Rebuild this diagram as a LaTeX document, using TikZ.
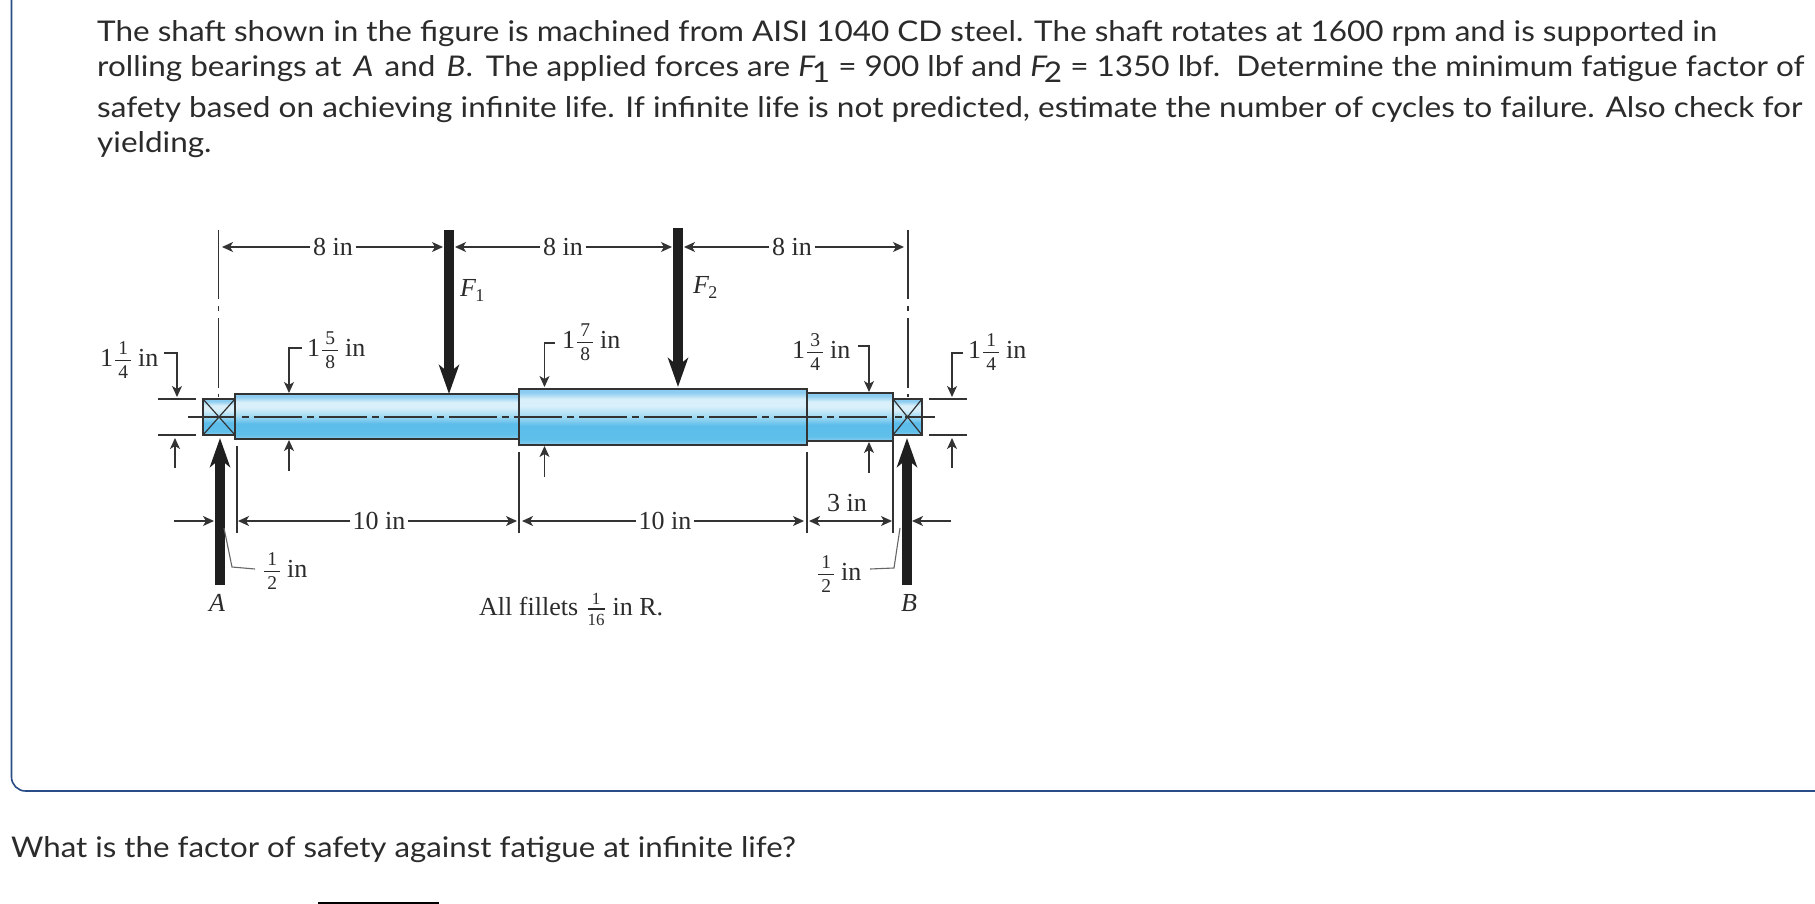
\documentclass[tikz,border=0pt]{standalone}
\usepackage{graphicx}
\usepackage{fontspec}
\setmainfont[FakeStretch=1.105]{Lato}
\newfontfamily\dfont{Liberation Serif}
\usetikzlibrary{arrows.meta}
\definecolor{ink}{HTML}{2B2B2B}
\definecolor{heavyink}{HTML}{1F1F1F}
\definecolor{dline}{HTML}{333333}
\definecolor{frame}{HTML}{2A4D87}
\pgfdeclareverticalshading{shaftg}{100bp}{
 rgb(0bp)=(0.55,0.80,0.93);rgb(25bp)=(0.55,0.80,0.93);rgb(30bp)=(0.37,0.75,0.92);
 rgb(42bp)=(0.36,0.74,0.92);rgb(50bp)=(0.62,0.85,0.95);rgb(60bp)=(0.85,0.94,0.98);
 rgb(66bp)=(0.85,0.94,0.98);rgb(72bp)=(0.55,0.80,0.94);rgb(75bp)=(0.55,0.80,0.94);rgb(100bp)=(0.55,0.80,0.94)}
\newcommand\mysub[1]{\kern-3.5pt\raisebox{-6pt}{\upshape #1}}
% stacked fraction: bar 16pt wide, 5.3pt above the baseline
\newcommand\dfr[2]{\makebox[16pt]{\fontsize{19.5}{20}\selectfont\rlap{\makebox[16pt]{\raisebox{11.5pt}{#1}}}\rlap{\makebox[16pt]{\raisebox{-12pt}{#2}}}\rule[4.8pt]{16pt}{1.1pt}}}
\newcommand\dfrs[2]{\makebox[17pt]{\fontsize{17}{18}\selectfont\rlap{\makebox[17pt]{\raisebox{11pt}{#1}}}\rlap{\makebox[17pt]{\raisebox{-10.5pt}{#2}}}\rule[5.5pt]{17pt}{1.1pt}}}
\newcommand\mixed[2]{1\kern2pt\dfr{#1}{#2}\kern7pt in}
\tikzset{
 x=1pt,y=-1pt,
 maintext/.style={anchor=base west,inner sep=0pt,text=ink,font=\fontsize{28.5}{30}\selectfont},
 dlabel/.style={anchor=base west,inner sep=0pt,text=ink,font=\dfont\fontsize{26}{28}\selectfont},
 dimtext/.style={anchor=base,inner xsep=2.5pt,inner ysep=0pt,text=ink,font=\dfont\fontsize{26}{28}\selectfont},
 thin line/.style={draw=dline,line width=1.4pt},
 dim/.style={thin line,-{Stealth[length=11pt,width=10pt,inset=3pt]}},
 heavy/.style={draw=heavyink,line width=9.5pt,-{Stealth[length=29pt,width=20pt,inset=8pt]}},
 part/.style={draw=dline,line width=1.7pt,shading=shaftg},
 gleader/.style={draw=black!60,line width=1.1pt},
}
\begin{document}
\begin{tikzpicture}
\useasboundingbox (0,0) rectangle (1815,904);
\fill[white] (0,0) rectangle (1815,904);
% frame
\draw[frame,line width=1.6pt,rounded corners=14pt] (11.5,-5) -- (11.5,791) -- (1825,791);
% main text
\node[maintext] (l1) at (97,42) {The shaft shown in the figure is machined from AISI 1040 CD steel. The shaft rotates at 1600 rpm and is supported in};
\node[maintext] (l2) at (97,77) {rolling bearings at \kern4pt\textit{A} \kern3pt and \kern3pt\textit{B}. \kern5pt The applied forces are \textit{F}\mysub{1} = 900 lbf and \textit{F}\mysub{2} = 1350 lbf.\ \ Determine the minimum fatigue factor of};
\node[maintext] (l3) at (97,118) {\scalebox{1.003}[1]{safety based on achieving infinite life. If infinite life is not predicted, estimate the number of cycles to failure. Also check for}};
\node[maintext] (l4) at (97,153) {yielding.};
\node[maintext] (q) at (11,857) {\scalebox{0.9925}[1]{What is the factor of safety against fatigue at infinite life?}};
\coordinate (ansL) at (318,903); \coordinate (ansR) at (439,903);
\draw[black,line width=2pt] (ansL) -- (ansR);
% shaft
\path[part] (203,399) rectangle (235,435);
\path[part] (893,399) rectangle (922,435);
\path[part] (235,394) rectangle (519,439);
\path[part] (519,389) rectangle (807,445);
\path[part] (807,393) rectangle (893,441);
\coordinate (ba1) at (203,399); \coordinate (ba2) at (235,435); \coordinate (ba3) at (235,399); \coordinate (ba4) at (203,435);
\coordinate (bb1) at (893,399); \coordinate (bb2) at (922,435); \coordinate (bb3) at (922,399); \coordinate (bb4) at (893,435);
\draw[dline,line width=1.2pt] (ba1) -- (ba2) (ba3) -- (ba4) (bb1) -- (bb2) (bb3) -- (bb4);
% centre line
\coordinate (cl0) at (188,417); \coordinate (cl1) at (235,417); \coordinate (cl2) at (242,417); \coordinate (cl3) at (887,417);
\coordinate (cl4) at (895,417); \coordinate (cl5) at (902,417); \coordinate (cl6) at (905,417); \coordinate (cl7) at (935,417);
\draw[dline,line width=1.5pt] (cl0) -- (cl1) (cl4) -- (cl5) (cl6) -- (cl7);
\draw[dline,line width=1.5pt,dash pattern=on 7pt off 5pt on 48pt off 5pt] (cl2) -- (cl3);
% extension lines
\foreach \n/\x in {a/218.7,b/908}{
 \coordinate (e\n1) at (\x,230); \coordinate (e\n2) at (\x,299); \coordinate (e\n3) at (\x,306); \coordinate (e\n4) at (\x,311);
 \coordinate (e\n5) at (\x,318); \coordinate (e\n6) at (\x,388); \coordinate (e\n7) at (\x,394); \coordinate (e\n8) at (\x,397);
 \draw[dline,line width=1.4pt] (e\n1) -- (e\n2) (e\n3) -- (e\n4) (e\n5) -- (e\n6) (e\n7) -- (e\n8);
}
\foreach \n/\x/\y in {c/237/446,d/519/452,e/807/452,f/893/441}{
 \coordinate (x\n1) at (\x,\y); \coordinate (x\n2) at (\x,533);
 \draw[dline,line width=1.4pt] (x\n1) -- (x\n2);
}
% heavy arrows
\coordinate (f1a) at (449,230); \coordinate (f1b) at (449,394);
\coordinate (f2a) at (678,228); \coordinate (f2b) at (678,387);
\coordinate (ra) at (220,585); \coordinate (rb) at (220,438);
\coordinate (sa) at (907,585); \coordinate (sb) at (907,438);
\draw[heavy] (f1a) -- (f1b);
\draw[heavy] (f2a) -- (f2b);
\draw[heavy] (ra) -- (rb);
\draw[heavy] (sa) -- (sb);
% top dims
\node[dimtext] (d81) at (333,255) {8 in};
\node[dimtext] (d82) at (563,255) {8 in};
\node[dimtext] (d83) at (792,255) {8 in};
\coordinate (t0) at (222,247); \coordinate (t1) at (443,247); \coordinate (t2) at (455,247); \coordinate (t3) at (672,247); \coordinate (t4) at (684,247); \coordinate (t5) at (904,247);
\draw[dim] (d81.west|-t0) -- (t0); \draw[dim] (d81.east|-t0) -- (t1);
\draw[dim] (d82.west|-t0) -- (t2); \draw[dim] (d82.east|-t0) -- (t3);
\draw[dim] (d83.west|-t0) -- (t4); \draw[dim] (d83.east|-t0) -- (t5);
% force labels
\node[dlabel] (F1) at (460,296) {\textit{F}\kern-1pt\raisebox{-5pt}{\fontsize{18}{18}\selectfont 1}};
\node[dlabel] (F2) at (693,293) {\textit{F}\kern-1pt\raisebox{-5pt}{\fontsize{18}{18}\selectfont 2}};
% diameter labels
\node[dlabel] (la) at (100,366) {\mixed{1}{4}};
\node[dlabel] (lb) at (307,356) {\mixed{5}{8}};
\node[dlabel] (lc) at (562,348) {\mixed{7}{8}};
\node[dlabel] (ld) at (792,358) {\mixed{3}{4}};
\node[dlabel] (le) at (968,358) {\mixed{1}{4}};
% leaders
\coordinate (a0) at (164,353); \coordinate (a1) at (177,353); \coordinate (a2) at (177,397);
\coordinate (b0) at (302,348); \coordinate (b1) at (289,348); \coordinate (b2) at (289,393);
\coordinate (c0) at (555,343); \coordinate (c1) at (544.5,343); \coordinate (c2) at (544.5,387);
\coordinate (d0) at (858,346); \coordinate (d1) at (869,346); \coordinate (d2) at (869,392);
\coordinate (g0) at (963,353); \coordinate (g1) at (952,353); \coordinate (g2) at (952,397);
\draw[dim] (a0) -- (a1) -- (a2);
\draw[dim] (b0) -- (b1) -- (b2);
\draw[dim] (c0) -- (c1) -- (c2);
\draw[dim] (d0) -- (d1) -- (d2);
\draw[dim] (g0) -- (g1) -- (g2);
% lower arrows
\foreach \n/\x/\a/\b in {p/175/468/438,q/289/471/440,r/544.5/477/446,s/869/473/442,u/952/468/438}{
 \coordinate (\n0) at (\x,\a); \coordinate (\n1) at (\x,\b);
 \draw[dim] (\n0) -- (\n1);
}
% ticks
\foreach \n/\xa/\xb/\y in {k1/158/196/399,k2/158/196/435,k3/929/967/399,k4/929/967/435}{
 \coordinate (\n a) at (\xa,\y); \coordinate (\n b) at (\xb,\y);
 \draw[dline,line width=1.4pt] (\n a) -- (\n b);
}
% bottom dims
\node[dimtext] (d101) at (379,529) {10 in};
\node[dimtext] (d102) at (665,529) {10 in};
\node[dimtext] (d3) at (847,511) {3 in};
\coordinate (h0) at (174,521); \coordinate (h1) at (214,521); \coordinate (h2) at (238,521); \coordinate (h3) at (517,521);
\coordinate (h4) at (522,521); \coordinate (h5) at (804,521); \coordinate (h6) at (809,521); \coordinate (h7) at (892,521);
\coordinate (h8) at (951,521); \coordinate (h9) at (912,521);
\draw[dim] (h0) -- (h1);
\draw[dim] (d101.west|-h0) -- (h2); \draw[dim] (d101.east|-h0) -- (h3);
\draw[dim] (d102.west|-h0) -- (h4); \draw[dim] (d102.east|-h0) -- (h5);
\draw[dim,{Stealth[length=11pt,width=10pt,inset=3pt]}-{Stealth[length=11pt,width=10pt,inset=3pt]}] (h6) -- (h7);
\draw[dim] (h8) -- (h9);
% half inch
\node[dlabel] (ha) at (264,577) {\dfr{1}{2}\kern7pt in};
\node[dlabel] (hb) at (818,580) {\dfr{1}{2}\kern7pt in};
\coordinate (m0) at (224,528); \coordinate (m1) at (232,567); \coordinate (m2) at (255,569);
\coordinate (n0) at (900,528); \coordinate (n1) at (894,568); \coordinate (n2) at (870,569);
\draw[gleader] (m0) -- (m1) -- (m2);
\draw[gleader] (n0) -- (n1) -- (n2);
% names
\node[dlabel,anchor=base] (A) at (217,611) {\textit{A}};
\node[dlabel,anchor=base] (B) at (909,611) {\textit{B}};
\node[dlabel] (fil) at (479,615) {All fillets \kern3pt\dfrs{1}{16}\kern8pt in R.};
\end{tikzpicture}
\end{document}
